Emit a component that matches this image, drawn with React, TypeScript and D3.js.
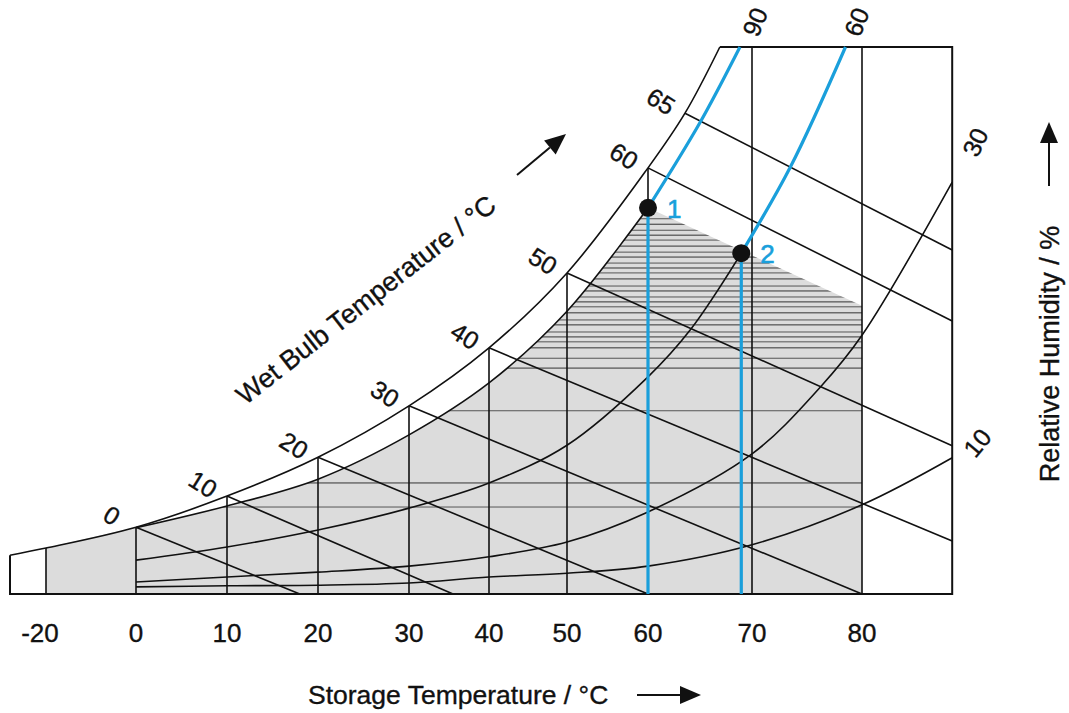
import * as d3 from "d3";

type Pt = [number, number];

// storage (dry bulb) temperature, °C
const tempTicks = [-20, 0, 10, 20, 30, 40, 50, 60, 70, 80];
const tLeft = -28;
const tRight = 88.2;

// y values are a moisture index: 0 = bottom of chart, 100 = top edge
// saturation line (100 % r.h.)
const satT = [-28, -20, 0, 10, 20, 30, 40, 50, 60, 65, 67.6];
const satV = [7.1, 8.4, 12.2, 17.9, 25.0, 34.4, 45.0, 58.7, 77.9, 87.9, 100];

// relative humidity lines
const rh90T = [0, 10, 20, 30, 40, 50, 60];
const rh90V = [12.1, 16.1, 21.0, 29.1, 38.6, 51.7, 70.6];
const rh90BlueT = [60, 66.1, 69.1];
const rh90BlueV = [70.6, 86.1, 100];

const rh60T = [0, 10, 20, 30, 40, 50, 60, 65.4, 69.2];
const rh60V = [6.2, 8.6, 11.7, 15.7, 20.3, 27.2, 39.7, 48.3, 62.3];
const rh60BlueT = [69.2, 73.5, 78.5];
const rh60BlueV = [62.3, 78.1, 100];

const rh30T = [0, 10, 20, 30, 40, 50, 60, 70, 76.2, 80, 88.2];
const rh30V = [2.2, 3.1, 4.0, 5.1, 6.8, 9.5, 15.0, 25.6, 37.8, 47.3, 75.3];

const rh10T = [0, 10, 20, 30, 40, 50, 60, 70, 80, 88.2];
const rh10V = [1.3, 1.5, 1.6, 2.0, 3.1, 3.8, 5.1, 9.0, 16.3, 24.9];

// wet bulb lines start on the saturation line and run down to the frame
const wetBulb = [0, 10, 20, 30, 40, 50, 60, 65];
const wetEndT = [18, 35.5, 60, 80, 88.2, 88.2, 88.2, 88.2];
const wetEndV = [0, 0, 0, 0, 9.7, 27.1, 49.9, 62.9];

// hatching inside the grey zone
const hatchV = [
  68.6, 67.6, 66.5, 65.6, 64.7, 63.6, 62.5, 61.6, 60.5, 59.6, 58.7, 57.6,
  56.3, 55.4, 54.3, 53.4, 52.5, 51.4, 50.1, 49.2, 47.9, 47.0, 46.1, 45.0,
  43.1, 41.3, 33.5, 20.3, 15.9,
];

const state1: Pt = [60, 70.6];
const state2: Pt = [69.2, 62.3];
const zoneEnd: Pt = [80, 52.7];

const zip = (ts: number[], vs: number[]): Pt[] => ts.map((t, i) => [t, vs[i]]);
const satAt = (t: number) => satV[satT.indexOf(t)];

const BLUE = "#1a9fdb";
const FONT = "'Liberation Sans', Arial, Helvetica, sans-serif";

function Arrow({ x1, y1, x2, y2 }: { x1: number; y1: number; x2: number; y2: number }) {
  const a = Math.atan2(y2 - y1, x2 - x1);
  const len = 21;
  const hw = 9;
  const bx = x2 - len * Math.cos(a);
  const by = y2 - len * Math.sin(a);
  const px = -Math.sin(a) * hw;
  const py = Math.cos(a) * hw;
  return (
    <g>
      <line x1={x1} y1={y1} x2={bx} y2={by} stroke="#111" strokeWidth={2} />
      <path d={`M${x2},${y2}L${bx + px},${by + py}L${bx - px},${by - py}Z`} fill="#111" />
    </g>
  );
}

export default function App() {
  const width = 1069;
  const height = 713;

  // the temperature axis of this chart is not evenly spaced
  const x = d3
    .scaleLinear()
    .domain([-20, 0, 10, 20, 30, 40, 50, 60, 65, 70, 80])
    .range([46, 136, 227, 318, 409, 489, 567, 648, 685, 752, 862]);
  const y = d3.scaleLinear([0, 100], [594, 47]);

  const smooth = d3
    .line<Pt>()
    .x((d) => x(d[0]))
    .y((d) => y(d[1]))
    .curve(d3.curveCatmullRom.alpha(0.5));
  const straight = d3
    .line<Pt>()
    .x((d) => x(d[0]))
    .y((d) => y(d[1]));

  const grayD =
    `M${x(-20)},${y(0)}L${x(-20)},${y(satAt(-20))}L${x(0)},${y(satAt(0))}` +
    (smooth(zip(rh90T, rh90V)) as string).replace(/^M/, "L") +
    `L${x(zoneEnd[0])},${y(zoneEnd[1])}L${x(80)},${y(0)}Z`;

  const frame = straight([
    [tLeft, satV[0]],
    [tLeft, 0],
    [tRight, 0],
    [tRight, 100],
    [satT[satT.length - 1], 100],
  ]);

  const black = { fill: "none", stroke: "#111", strokeWidth: 1.6 };
  const textStyle = {
    fontFamily: FONT,
    fill: "#111",
    stroke: "#111",
    strokeWidth: 0.35,
  };

  return (
    <svg
      width={width}
      height={height}
      style={{ position: "absolute", left: 0, top: 0, background: "#fff" }}
    >
      <defs>
        <clipPath id="zone">
          <path d={grayD} />
        </clipPath>
      </defs>

      <path d={grayD} fill="#dcdcdc" />
      <g clipPath="url(#zone)">
        {hatchV.map((v, i) => (
          <line
            key={i}
            x1={x(-20)}
            x2={x(80)}
            y1={y(v)}
            y2={y(v)}
            stroke={i % 2 ? "#333" : "#555"}
            strokeWidth={1}
          />
        ))}
      </g>

      {/* relative humidity lines */}
      <path d={smooth(zip(rh90T, rh90V)) as string} {...black} />
      <path d={smooth(zip(rh60T, rh60V)) as string} {...black} />
      <path d={smooth(zip(rh30T, rh30V)) as string} {...black} />
      <path d={smooth(zip(rh10T, rh10V)) as string} {...black} />

      {/* wet bulb lines */}
      {wetBulb.map((tw, i) => (
        <path
          key={tw}
          d={straight([
            [tw, satAt(tw)],
            [wetEndT[i], wetEndV[i]],
          ]) as string}
          {...black}
        />
      ))}

      {/* storage temperature verticals */}
      {tempTicks.map((t) => {
        const top = t >= 70 ? 100 : satAt(t);
        const bottom = t === 60 ? state1[1] : 0;
        return (
          <line key={t} x1={x(t)} x2={x(t)} y1={y(top)} y2={y(bottom)} {...black} />
        );
      })}

      {/* saturation line and frame */}
      <path d={smooth(zip(satT, satV)) as string} {...black} />
      <path d={frame as string} fill="none" stroke="#111" strokeWidth={2} />

      {/* process 1 -> 2 */}
      <path d={smooth(zip(rh90BlueT, rh90BlueV)) as string} fill="none" stroke={BLUE} strokeWidth={3.2} />
      <path d={smooth(zip(rh60BlueT, rh60BlueV)) as string} fill="none" stroke={BLUE} strokeWidth={3.2} />
      <line x1={x(state1[0])} x2={x(state1[0])} y1={y(state1[1])} y2={y(0)} stroke={BLUE} strokeWidth={3.2} />
      <line x1={x(state2[0])} x2={x(state2[0])} y1={y(state2[1])} y2={y(0)} stroke={BLUE} strokeWidth={3.2} />
      {[state1, state2].map((p, i) => (
        <g key={i}>
          <circle cx={x(p[0])} cy={y(p[1])} r={9} fill="#111" />
          <text
            x={x(p[0]) + 19}
            y={y(p[1]) + 10}
            fontSize={26}
            style={{ ...textStyle, fill: BLUE, stroke: BLUE, strokeWidth: 0.6 }}
          >
            {i + 1}
          </text>
        </g>
      ))}

      {/* wet bulb labels */}
      {wetBulb.map((tw) => (
        <text
          key={tw}
          transform={`translate(${x(tw) - 24},${y(satAt(tw)) - 12}) rotate(32)`}
          textAnchor="middle"
          dominantBaseline="central"
          fontSize={25}
          style={textStyle}
        >
          {tw}
        </text>
      ))}

      {/* relative humidity labels */}
      <text
        transform={`translate(${x(rh90BlueT[2]) + 15},${y(100) - 25}) rotate(-68)`}
        textAnchor="middle"
        dominantBaseline="central"
        fontSize={25}
        style={textStyle}
      >
        90
      </text>
      <text
        transform={`translate(${x(rh60BlueT[2]) + 11},${y(100) - 25}) rotate(-68)`}
        textAnchor="middle"
        dominantBaseline="central"
        fontSize={25}
        style={textStyle}
      >
        60
      </text>
      <text
        transform={`translate(${x(tRight) + 23},${y(rh30V[rh30V.length - 1]) - 40}) rotate(-65)`}
        textAnchor="middle"
        dominantBaseline="central"
        fontSize={25}
        style={textStyle}
      >
        30
      </text>
      <text
        transform={`translate(${x(tRight) + 25},${y(rh10V[rh10V.length - 1]) - 15}) rotate(-50)`}
        textAnchor="middle"
        dominantBaseline="central"
        fontSize={25}
        style={textStyle}
      >
        10
      </text>

      {/* x tick labels */}
      {tempTicks.map((t) => (
        <text
          key={t}
          x={x(t) - (t < 0 ? 6 : 0)}
          y={642}
          textAnchor="middle"
          fontSize={26}
          style={textStyle}
        >
          {t}
        </text>
      ))}

      {/* axis titles */}
      <text x={308} y={704} fontSize={26.5} style={textStyle}>
        Storage Temperature / °C
      </text>
      <Arrow x1={637} y1={695} x2={701} y2={695} />

      <text
        transform="translate(366,300) rotate(-38)"
        textAnchor="middle"
        dominantBaseline="central"
        fontSize={27}
        style={textStyle}
      >
        Wet Bulb Temperature / °C
      </text>
      <Arrow x1={517} y1={175} x2={566} y2={134} />

      <text
        transform="translate(1050,354) rotate(-90)"
        textAnchor="middle"
        dominantBaseline="central"
        fontSize={27}
        style={textStyle}
      >
        Relative Humidity / %
      </text>
      <Arrow x1={1049} y1={186} x2={1049} y2={122} />
    </svg>
  );
}
